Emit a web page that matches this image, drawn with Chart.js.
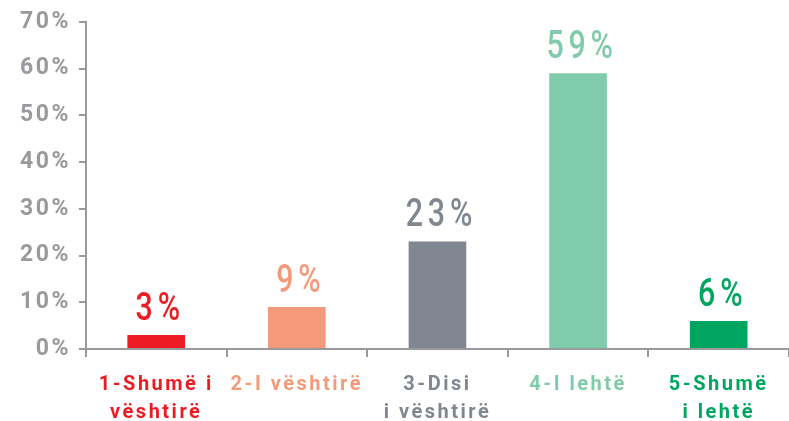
<!DOCTYPE html>
<html>
<head>
<meta charset="utf-8">
<script src="https://cdn.jsdelivr.net/npm/chart.js@4"></script>
<style>
  html, body { margin: 0; padding: 0; background: #fff; }
  #wrap { width: 789px; height: 421px; }
</style>
</head>
<body>
<div id="wrap"><canvas id="chart"></canvas></div>
<script>
// data
const categories = [['1-Shumë i', 'vështirë'], '2-I vështirë', ['3-Disi', 'i vështirë'], '4-I lehtë', ['5-Shumë', 'i lehtë']];
const values = [3, 9, 23, 59, 6];
const barColors = ['#ed1c24', '#f4997a', '#808790', '#80cbab', '#00a65f'];
const yTicks = [0, 10, 20, 30, 40, 50, 60, 70];

const axisGrey = '#9a9a9e';

// value labels above each bar (narrowed to look condensed)
const valueLabels = {
    id: 'valueLabels',
    afterDatasetsDraw(chart) {
        const ctx = chart.ctx;
        const meta = chart.getDatasetMeta(0);
        meta.data.forEach(function(bar, i) {
            ctx.save();
            ctx.font = '500 38px Roboto';
            ctx.letterSpacing = '6px';
            ctx.textAlign = 'center';
            ctx.textBaseline = 'alphabetic';
            ctx.fillStyle = barColors[i];
            ctx.translate(bar.x + 4, bar.y - 15);
            ctx.scale(0.8, 1);
            ctx.fillText(values[i] + '%', 0, 0);
            ctx.restore();
        });
    }
};

// letter spacing for the axis text (canvas resize wipes ctx state, so set it each pass)
const spacing = {
    id: 'spacing',
    beforeLayout(chart) { chart.ctx.letterSpacing = '2.5px'; },
    beforeDraw(chart) { chart.ctx.letterSpacing = '2.5px'; }
};

const ctx = document.getElementById('chart').getContext('2d');
const chart = new Chart(ctx, {
    type: 'bar',
    data: {
        labels: categories,
        datasets: [{
            data: values,
            backgroundColor: barColors,
            categoryPercentage: 1,
            barPercentage: 0.41
        }]
    },
    options: {
        responsive: true,
        maintainAspectRatio: false,
        animation: false,
        layout: { padding: { top: 12, right: 0, left: 12, bottom: -20 } },
        plugins: {
            legend: { display: false },
            tooltip: { enabled: false }
        },
        scales: {
            y: {
                min: 0,
                max: 70,
                afterBuildTicks(axis) { axis.ticks = yTicks.map(v => ({ value: v })); },
                border: { color: axisGrey, width: 2 },
                grid: { drawOnChartArea: false, drawTicks: true, tickLength: 7, color: axisGrey, lineWidth: 2 },
                ticks: {
                    color: axisGrey,
                    padding: 8,
                    font: { family: 'Roboto', size: 23, weight: 'bold' },
                    callback: v => v + '%'
                }
            },
            x: {
                border: { color: axisGrey, width: 2 },
                grid: { drawOnChartArea: false, drawTicks: true, tickLength: 8, color: axisGrey, lineWidth: 2, offset: true },
                ticks: {
                    color: barColors,
                    padding: 14,
                    maxRotation: 0,
                    autoSkip: false,
                    font: { family: 'Roboto', size: 20, weight: 'bold', lineHeight: 1.4 }
                }
            }
        }
    },
    plugins: [spacing, valueLabels]
});
</script>
</body>
</html>
